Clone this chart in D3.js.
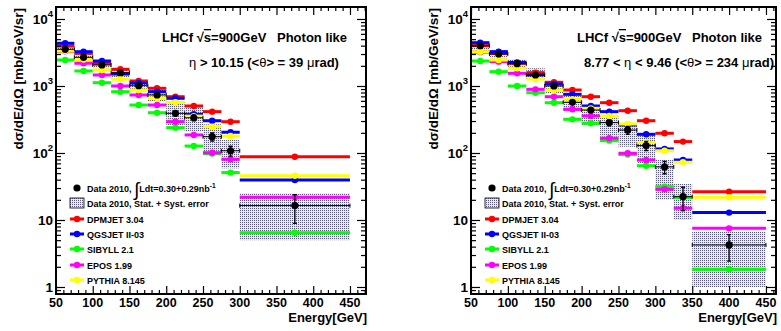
<!DOCTYPE html>
<html><head><meta charset="utf-8">
<script src="https://cdn.jsdelivr.net/npm/d3@7"></script>
<style>
body{margin:0;background:#fff}
svg{display:block}
text{font-family:"Liberation Sans",Arial,Helvetica,sans-serif;font-weight:bold;fill:#000}
</style>
</head><body>
<svg id="c" width="781" height="331"></svg>
<script>
// ---------- data ----------
const binEdgesL = [50,75,100,125,150,175,200,225,250,275,300,450];
const binEdgesR = [50,75,100,125,150,175,200,225,250,275,300,325,350,450];

const dpmjetL = [3950,3075,2185,1775,1188,924,692,503,414,293,88];
const qgsjetL = [4340,3250,2360,1510,1108,822,655,378,303,204,39.5];
const sibyllL = [2445,1675,1120,822,520,399,239,127,98,51,6.46];
const eposL   = [3300,2185,1460,1000,734,520,293,186,101,80.5,21.8];
const pythiaL = [3330,2490,1733,1270,870,662,571,355,247,179,45.8];
const dataL   = [3530,2680,2060,1580,1010,734,391,336,175,108,16.4];
const dataStatL = [60,50,45,40,35,30,30,35,25,18,7.5];
const boxLoL  = [3000,2300,1840,1350,822,583,262,208,105,59,5.0];
const boxHiL  = [3950,3075,2260,1840,1230,957,583,491,268,156,25];

const dpmjetR = [4000,3075,2185,1580,1135,871,692,563,428,303,197,148,26.4];
const qgsjetR = [4430,3250,2250,1460,1071,751,503,414,262,190,115,78.6,12.9];
const sibyllR = [2360,1636,1000,794,563,318,278,153,95,64.6,31.5,21.8,1.84];
const eposR   = [3200,2307,1545,891,692,449,357,166,99,78.6,28.7,15,7.5];
const pythiaR = [3250,2445,1837,1270,871,633,464,357,271,143,108,72.6,21.8];
const dataR   = [3990,3005,2150,1460,1000,571,438,284,220,129,62,22.3,4.24];
const dataStatR = [60,50,45,40,35,30,30,30,30,20,13,8.5,1.8];
const boxLoR  = [3300,2590,1840,1230,780,414,262,175,124,70,20,10,1.0];
const boxHiR  = [4430,3445,2500,1840,1165,734,522,350,262,197,79,34.5,6.7];

const modelNames  = ["DPMJET 3.04","QGSJET II-03","SIBYLL 2.1","EPOS 1.99","PYTHIA 8.145"];
const modelColors = ["#ff0000","#0000ff","#00ff00","#ff00ff","#ffff00"];
const xTickLabels = [50,100,150,200,250,300,350,400,450];
const yDecades = [1,10,100,1000,10000];

// ---------- drawing ----------
const svg = d3.select("#c");
const defs = svg.append("defs");
const pat = defs.append("pattern").attr("id","dots").attr("width",2).attr("height",2)
  .attr("patternUnits","userSpaceOnUse");
pat.append("rect").attr("width",2).attr("height",2).attr("fill","#e8e8ee");
pat.append("rect").attr("width",1).attr("height",1).attr("fill","#5c5c7a");

function panel(cfg){
  const g = svg.append("g");
  const x = d3.scaleLinear().domain([50,cfg.xmax]).range([cfg.x0,cfg.x1]);
  const y = d3.scaleLog().domain([0.786,15100]).range([294,7]);
  const edges = cfg.edges;
  const nb = edges.length-1;
  const idx = d3.range(nb);
  const mid = i => (edges[i]+edges[i+1])/2;

  const clip = "clip"+cfg.id;
  defs.append("clipPath").attr("id",clip).append("rect")
    .attr("x",cfg.x0).attr("y",7).attr("width",cfg.x1-cfg.x0).attr("height",287);
  const plot = g.append("g").attr("clip-path",`url(#${clip})`);

  // systematic boxes
  plot.selectAll("rect.box").data(idx).join("rect").attr("class","box")
    .attr("x",i=>x(edges[i])).attr("width",i=>x(edges[i+1])-x(edges[i]))
    .attr("y",i=>y(cfg.boxHi[i])).attr("height",i=>y(cfg.boxLo[i])-y(cfg.boxHi[i]))
    .attr("fill","url(#dots)");

  // model lines
  cfg.models.forEach((vals,k)=>{
    const col = modelColors[k];
    plot.selectAll(null).data(idx).join("line")
      .attr("x1",i=>x(edges[i])).attr("x2",i=>x(edges[i+1]))
      .attr("y1",i=>y(vals[i])).attr("y2",i=>y(vals[i]))
      .attr("stroke",col).attr("stroke-width",3);
    plot.selectAll(null).data(idx).join("circle")
      .attr("cx",i=>x(mid(i))).attr("cy",i=>y(vals[i])).attr("r",3.2).attr("fill",col);
  });

  // data
  const d = cfg.data, s = cfg.stat;
  plot.selectAll(null).data(idx).join("line")
    .attr("x1",i=>x(edges[i])).attr("x2",i=>x(edges[i+1]))
    .attr("y1",i=>y(d[i])).attr("y2",i=>y(d[i]))
    .attr("stroke","#000").attr("stroke-width",1);
  plot.selectAll(null).data(idx).join("path")
    .attr("d",i=>{
      const xl=x(edges[i]), xr=x(edges[i+1]), yy=y(d[i]);
      return `M${xl},${yy-2}V${yy+2}M${xr},${yy-2}V${yy+2}`;
    }).attr("stroke","#000").attr("stroke-width",1);
  plot.selectAll(null).data(idx).join("path")
    .attr("d",i=>{
      const xm=x(mid(i)), y1=y(d[i]+s[i]), y2=y(Math.max(d[i]-s[i],0.01));
      return `M${xm},${y1}V${y2}M${xm-2},${y1}H${xm+2}M${xm-2},${y2}H${xm+2}`;
    }).attr("stroke","#000").attr("stroke-width",1.3).attr("fill","none");
  plot.selectAll(null).data(idx).join("circle")
    .attr("cx",i=>x(mid(i))).attr("cy",i=>y(d[i])).attr("r",3.6).attr("fill","#000");

  // axes ticks (inward) via d3 axes
  const minorX = d3.range(50, cfg.xmax+0.01, 10).filter(v=>v%50!==0);
  const majorX = xTickLabels;
  const minorY = [];
  [0.1,1,10,100,1000,10000].forEach(dd=>{for(let k=2;k<=9;k++){const v=dd*k; if(v>=0.786&&v<=15100) minorY.push(v);}});
  const tickStyle = sel=>{sel.select(".domain").remove(); sel.selectAll("line").attr("stroke","#000").attr("stroke-width",1.2); sel.selectAll("text").remove();};

  g.append("g").attr("transform","translate(0,294)").call(d3.axisBottom(x).tickValues(majorX).tickSize(-8)).call(tickStyle);
  g.append("g").attr("transform","translate(0,294)").call(d3.axisBottom(x).tickValues(minorX).tickSize(-4)).call(tickStyle);
  g.append("g").attr("transform","translate(0,7)").call(d3.axisTop(x).tickValues(majorX).tickSize(-8)).call(tickStyle);
  g.append("g").attr("transform","translate(0,7)").call(d3.axisTop(x).tickValues(minorX).tickSize(-4)).call(tickStyle);
  g.append("g").attr("transform",`translate(${cfg.x0},0)`).call(d3.axisLeft(y).tickValues(yDecades).tickSize(-9)).call(tickStyle);
  g.append("g").attr("transform",`translate(${cfg.x0},0)`).call(d3.axisLeft(y).tickValues(minorY).tickSize(-5)).call(tickStyle);
  g.append("g").attr("transform",`translate(${cfg.x1},0)`).call(d3.axisRight(y).tickValues(yDecades).tickSize(-9)).call(tickStyle);
  g.append("g").attr("transform",`translate(${cfg.x1},0)`).call(d3.axisRight(y).tickValues(minorY).tickSize(-5)).call(tickStyle);

  // frame
  g.append("rect").attr("x",cfg.x0).attr("y",7).attr("width",cfg.x1-cfg.x0).attr("height",287)
    .attr("fill","none").attr("stroke","#000").attr("stroke-width",2);

  // x labels
  g.selectAll(null).data(majorX).join("text")
    .attr("x",v=>x(v)).attr("y",307).attr("text-anchor","middle")
    .style("font-size","12.5px").text(v=>v);
  // y labels
  yDecades.forEach(v=>{
    const t = g.append("text").attr("x",cfg.x0-3).attr("y",y(v)+5).attr("text-anchor","end").style("font-size","13.5px");
    const e = Math.round(Math.log10(v));
    if(e===0) t.text("1");
    else if(e===1) t.text("10");
    else { t.text("10"); t.append("tspan").attr("dy",-7).style("font-size","9.5px").text(e); }
  });

  // axis titles
  g.append("text").attr("transform",`translate(${cfg.x0-33},8) rotate(-90)`)
    .attr("text-anchor","end").style("font-size","13.5px").text("dσ/dE/dΩ [mb/GeV/sr]");
  g.append("text").attr("x",cfg.x1+1).attr("y",322).attr("text-anchor","end")
    .style("font-size","13px").text("Energy[GeV]");

  // header texts
  const h1 = g.append("text").attr("x",cfg.x0+106).attr("y",42).style("font-size","13px");
  h1.append("tspan").text("LHCf ");
  h1.append("tspan").text("√");
  h1.append("tspan").style("text-decoration","overline").text("s");
  h1.append("tspan").text("=900GeV");
  g.append("text").attr("x",cfg.x0+221).attr("y",42).style("font-size","13px").text("Photon like");
  const h2 = g.append("text").attr("x",cfg.x0+208).attr("y",67).attr("text-anchor","middle").style("font-size","13px");
  cfg.etaParts.forEach(p=>h2.append("tspan").style("font-weight",p[1]?"normal":"bold").text(p[0]));

  // legend
  const lx = cfg.x0+14, tx = cfg.x0+31;
  const rows = [188,203,219,234,249,265,280];
  g.append("circle").attr("cx",lx+7).attr("cy",rows[0]).attr("r",3.6).attr("fill","#000");
  const lt = g.append("text").attr("x",tx).attr("y",rows[0]+3.5).style("font-size","9px");
  lt.append("tspan").text("Data 2010, ");
  lt.append("tspan").attr("dy",4).style("font-size","19px").style("font-weight","normal").text("∫");
  lt.append("tspan").attr("dy",-4).text("Ldt=0.30+0.29nb");
  lt.append("tspan").attr("dy",-4).style("font-size","6.5px").text("-1");
  g.append("rect").attr("x",lx).attr("y",rows[1]-5).attr("width",14).attr("height",10)
    .attr("fill","url(#dots)").attr("stroke","#000").attr("stroke-width",0.8);
  g.append("text").attr("x",tx).attr("y",rows[1]+3.5).style("font-size","9px").text("Data 2010, Stat. + Syst. error");
  modelNames.forEach((n,k)=>{
    const yy = rows[k+2];
    g.append("line").attr("x1",lx).attr("x2",lx+14).attr("y1",yy).attr("y2",yy)
      .attr("stroke",modelColors[k]).attr("stroke-width",3);
    g.append("circle").attr("cx",lx+7).attr("cy",yy).attr("r",3.2).attr("fill",modelColors[k]);
    g.append("text").attr("x",tx).attr("y",yy+3.5).style("font-size","9px").text(n);
  });
}

panel({id:"L", x0:56, x1:366, xmax:471.8, edges:binEdgesL,
  models:[dpmjetL,qgsjetL,sibyllL,eposL,pythiaL], data:dataL, stat:dataStatL, boxLo:boxLoL, boxHi:boxHiL,
  etaParts:[["η",1],[" > 10.15 (<",0],["θ",1],["> = 39 ",0],["μ",1],["rad)",0]]});
panel({id:"R", x0:471, x1:776, xmax:463.6, edges:binEdgesR,
  models:[dpmjetR,qgsjetR,sibyllR,eposR,pythiaR], data:dataR, stat:dataStatR, boxLo:boxLoR, boxHi:boxHiR,
  etaParts:[["8.77 < ",0],["η",1],[" < 9.46 (<",0],["θ",1],["> = 234 ",0],["μ",1],["rad)",0]]});
</script>
</body></html>
